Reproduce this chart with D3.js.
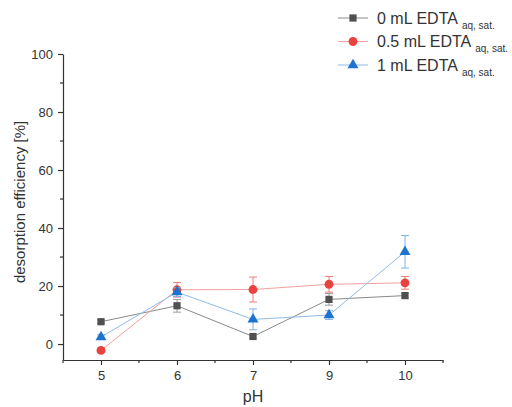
<!DOCTYPE html>
<html>
<head>
<meta charset="utf-8">
<script src="https://cdn.jsdelivr.net/npm/d3@7"></script>
<style>
  body { margin: 0; background: #fff; }
  text { font-family: "Liberation Sans", Arial, sans-serif; }
</style>
</head>
<body>
<div class="canva"></div>
<script>
const phLabels = ['5', '6', '7', '9', '10']

// desorption efficiency [%] and error (+/-)
const edta0 = [7.7, 13.2, 2.6, 15.4, 16.7]
const edta0Err = [0.6, 2.2, 0.6, 2.0, 0.8]
const edta05 = [-2.2, 18.7, 18.8, 20.6, 21.1]
const edta05Err = [0.6, 2.5, 4.3, 2.7, 2.2]
const edta1 = [2.4, 17.9, 8.5, 10.0, 31.8]
const edta1Err = [0.8, 1.5, 3.6, 1.5, 5.6]

const yTicks = [0, 20, 40, 60, 80, 100]

const series = [
  { name: '0 mL EDTA', values: edta0, err: edta0Err, marker: 'square', color: '#505050', line: '#8a8a8a', bar: '#9a9a9a' },
  { name: '0.5 mL EDTA', values: edta05, err: edta05Err, marker: 'circle', color: '#e8433f', line: '#f2a09e', bar: '#ef7d7a' },
  { name: '1 mL EDTA', values: edta1, err: edta1Err, marker: 'triangle', color: '#1d74d0', line: '#8fbbe6', bar: '#7fb2e3' }
]

const width = 512, height = 407
const svg = d3.select('.canva').append('svg')
  .attr('width', width)
  .attr('height', height)

const x = d3.scaleLinear().domain([-0.5, 4.5]).range([63, 443])
const y = d3.scaleLinear().domain([-5.5, 100]).range([360, 54])

const symbolFor = {
  square: d3.symbol().type(d3.symbolSquare).size(52),
  circle: d3.symbol().type(d3.symbolCircle).size(62),
  triangle: d3.symbol().type(d3.symbolTriangle).size(52)
}

// axes
const xAxis = d3.axisBottom(x)
  .tickValues(d3.range(phLabels.length))
  .tickFormat(i => phLabels[i])
  .tickSize(5)
  .tickSizeOuter(0)
const gx = svg.append('g').attr('transform', `translate(0,${y.range()[0]})`).call(xAxis)
gx.selectAll('.minor').data(d3.range(-0.5, 4.6, 1)).enter()
  .append('line').attr('class', 'minor')
  .attr('x1', d => x(d)).attr('x2', d => x(d))
  .attr('y1', 0).attr('y2', 3)

const yAxis = d3.axisLeft(y)
  .tickValues(yTicks)
  .tickSize(5)
  .tickSizeOuter(0)
const gy = svg.append('g').attr('transform', `translate(${x.range()[0]},0)`).call(yAxis)
gy.selectAll('.minor').data(d3.range(10, 100, 20)).enter()
  .append('line').attr('class', 'minor')
  .attr('x1', 0).attr('x2', -3)
  .attr('y1', d => y(d)).attr('y2', d => y(d))

svg.selectAll('.domain, .tick line, .minor')
  .attr('stroke', '#333').attr('stroke-width', 1.2)
svg.selectAll('.tick text')
  .attr('font-size', 13).attr('fill', '#333')
gx.selectAll('.tick text').attr('dy', '0.95em')
gy.selectAll('.tick text').attr('dx', '-2')

// axis titles
svg.append('text')
  .attr('x', x(2)).attr('y', 402)
  .attr('text-anchor', 'middle')
  .attr('font-size', 16).attr('fill', '#333')
  .text('pH')
svg.append('text')
  .attr('transform', `translate(25,${y(49)}) rotate(-90)`)
  .attr('text-anchor', 'middle')
  .attr('font-size', 15).attr('fill', '#333')
  .text('desorption efficiency [%]')

// lines, error bars, markers
const line = d3.line().x((d, i) => x(i)).y(d => y(d))
series.forEach(s => {
  const g = svg.append('g')
  g.append('path')
    .attr('d', line(s.values))
    .attr('fill', 'none')
    .attr('stroke', s.line)
    .attr('stroke-width', 1)

  const bars = g.selectAll('.err').data(s.values).enter().append('g')
  bars.append('line')
    .attr('x1', (d, i) => x(i)).attr('x2', (d, i) => x(i))
    .attr('y1', (d, i) => y(d + s.err[i])).attr('y2', (d, i) => y(d - s.err[i]))
  bars.append('line')
    .attr('x1', (d, i) => x(i) - 4).attr('x2', (d, i) => x(i) + 4)
    .attr('y1', (d, i) => y(d + s.err[i])).attr('y2', (d, i) => y(d + s.err[i]))
  bars.append('line')
    .attr('x1', (d, i) => x(i) - 4).attr('x2', (d, i) => x(i) + 4)
    .attr('y1', (d, i) => y(d - s.err[i])).attr('y2', (d, i) => y(d - s.err[i]))
  bars.selectAll('line').attr('stroke', s.bar).attr('stroke-width', 1)

  g.selectAll('.pt').data(s.values).enter().append('path')
    .attr('d', symbolFor[s.marker])
    .attr('transform', (d, i) => `translate(${x(i)},${y(d)})`)
    .attr('fill', s.color)
})

// legend
const legend = svg.append('g').attr('transform', 'translate(338,18)')
series.forEach((s, i) => {
  const row = legend.append('g').attr('transform', `translate(0,${i * 23.5})`)
  row.append('line')
    .attr('x1', 0).attr('x2', 30)
    .attr('stroke', s.line).attr('stroke-width', 1)
  row.append('path')
    .attr('d', symbolFor[s.marker])
    .attr('transform', 'translate(15,0)')
    .attr('fill', s.color)
  const t = row.append('text')
    .attr('x', 39).attr('y', 5.5)
    .attr('font-size', 16).attr('fill', '#333')
  t.append('tspan').text(s.name)
  t.append('tspan').attr('font-size', 10).attr('dx', 4).attr('dy', 5).text('aq, sat.')
})
</script>
</body>
</html>
